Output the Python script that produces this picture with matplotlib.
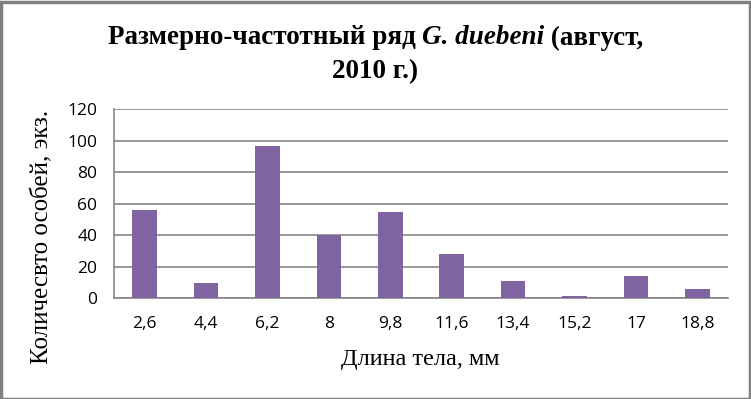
import matplotlib
matplotlib.use("Agg")
import matplotlib.pyplot as plt
from matplotlib.patches import Rectangle

categories = ["2,6", "4,4", "6,2", "8", "9,8", "11,6", "13,4", "15,2", "17", "18,8"]
counts = [56, 10, 97, 40, 55, 28, 11, 1.5, 14, 6]
yticks = [0, 20, 40, 60, 80, 100, 120]

W, H = 751, 399
fig = plt.figure(figsize=(W / 100, H / 100), dpi=100)
ax = fig.add_axes([114 / W, 1 - 298.3 / H, (728 - 114) / W, (298.3 - 109.3) / H])

x = list(range(len(categories)))
ax.bar(x, counts, width=0.4, color="#8064A2", zorder=3)
ax.set_xlim(-0.5, len(categories) - 0.5)
ax.set_ylim(0, 120)
ax.set_yticks(yticks)
ax.set_xticks(x)
ax.set_xticklabels(categories)
ax.yaxis.grid(True, color="#868686", linewidth=1.2, zorder=0)
for s in ["top", "right"]:
    ax.spines[s].set_visible(False)
ax.spines["left"].set_color("#868686")
ax.spines["bottom"].set_color("#868686")
ax.spines["left"].set_linewidth(1.2)
ax.spines["bottom"].set_linewidth(1.2)
ax.tick_params(axis="both", length=0, labelsize=12.5)
ax.tick_params(axis="x", pad=13)
ax.tick_params(axis="y", pad=12)
for lab in ax.get_xticklabels() + ax.get_yticklabels():
    lab.set_fontfamily("Open Sans")

# Title with italic species name, assembled from pieces
tsize = 19.5
pieces = [("Размерно-частотный ряд ", "normal"), ("G. duebeni", "italic"), (" (август,", "normal")]
renderer = fig.canvas.get_renderer()
texts = []
for s, st in pieces:
    t = fig.text(0, 1 - 38 / H, s, ha="left", va="center", fontsize=tsize,
                 fontweight="bold", fontstyle=st, family="Liberation Serif")
    texts.append(t)
widths = [t.get_window_extent(renderer).width for t in texts]
total = sum(widths)
xpos = (W - total) / 2
for t, w in zip(texts, widths):
    t.set_x(xpos / W)
    xpos += w
fig.text(0.5, 1 - 72 / H, "2010 г.)", ha="center", va="center", fontsize=tsize,
         fontweight="bold", family="Liberation Serif")

fig.text(42 / W, 1 - 237 / H, "Количесвто особей, экз.", rotation=90,
         ha="center", va="center", fontsize=18, family="Liberation Serif")
fig.text(420 / W, 1 - 360 / H, "Длина тела, мм", ha="center", va="center",
         fontsize=17.5, family="Liberation Serif")

fig.patches.append(Rectangle((0.5 / W, 0.5 / H), 1 - 2 / W, 1 - 2 / H,
                             transform=fig.transFigure, fill=False,
                             edgecolor="#808080", linewidth=2.5))
fig.savefig("out.png", dpi=100)
